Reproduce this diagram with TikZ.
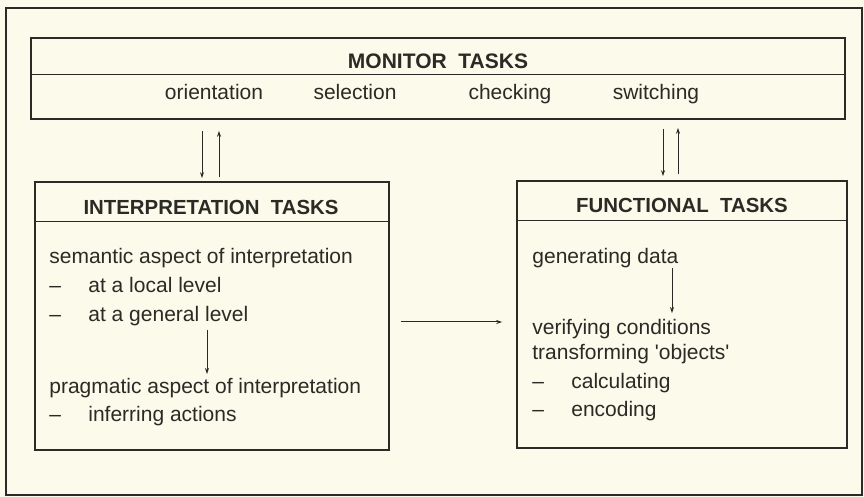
\documentclass[tikz,border=0pt]{standalone}
\usepackage{fontspec}
\setmainfont{Liberation Sans}
\usepackage{tikz}
\usetikzlibrary{arrows.meta}
\usetikzlibrary{positioning}

\definecolor{paper}{RGB}{252,250,234}
\definecolor{ink}{RGB}{42,42,38}
\newcommand{\itemdash}{\makebox[19.5pt][l]{--}}

\begin{document}
\begin{tikzpicture}[x=0.5pt, y=-0.5pt,
        box/.style={draw=ink, line width=0.8pt, inner sep=0pt},
        head/.style={font=\fontsize{10.2}{12}\selectfont\bfseries, text=ink, inner sep=0pt},
        mon/.style={font=\fontsize{10.5}{12}\selectfont, text=ink, inner sep=0pt, text height=1.6ex, text depth=0.4ex},
        item/.style={mon, anchor=west},
        link/.style={-{Stealth[length=3pt, width=2pt]}, draw=ink, line width=0.5pt}]
        % Paper and outer frame
        \fill[paper] (0,0) rectangle (864,497);
        \draw[ink, line width=1.1pt] (6,8) rectangle (862,495);
        % Draw the three boxes
        \node[box, minimum width=407pt, minimum height=40.5pt] (monitor) at (438,78.5) {};
        \node[box, minimum width=177pt, minimum height=134pt] (interp) at (212,316) {};
        \node[box, minimum width=165pt, minimum height=133.5pt] (func) at (682,314.5) {};
        % Titles and the lines under them
        \node[head, font=\fontsize{10.5}{12}\selectfont\bfseries] (mtitle) at (438,61) {MONITOR~~TASKS};
        \node[head] (ititle) at (211,207) {INTERPRETATION~~TASKS};
        \node[head] (ftitle) at (682,205) {FUNCTIONAL~~TASKS};
        \draw[ink, line width=0.4pt] (monitor.west |- 0,74) -- (monitor.east |- 0,74);
        \draw[ink, line width=0.4pt] (interp.west |- 0,221) -- (interp.east |- 0,221);
        \draw[ink, line width=0.4pt] (func.west |- 0,220) -- (func.east |- 0,220);
        % Monitor tasks
        \foreach \x/\t in {214/orientation, 355/selection, 510/checking, 656/switching}{
            \node[mon] (m-\t) at (\x,93) {\t};
        }
        % Interpretation tasks
        \node[item] (sem) at (49,257) {semantic aspect of interpretation};
        \node[item] (local) at (49,286) {\itemdash at a local level};
        \node[item] (general) at (49,315) {\itemdash at a general level};
        \node[item] (prag) at (49,387) {pragmatic aspect of interpretation};
        \node[item] (infer) at (49,415) {\itemdash inferring actions};
        % Functional tasks
        \node[item] (gendata) at (532,257) {generating data};
        \node[item] (verify) at (532,328) {verifying conditions};
        \node[item] (transform) at (532,353) {transforming \textquotesingle objects\textquotesingle};
        \node[item] (calc) at (532,382) {\itemdash calculating};
        \node[item] (encode) at (532,410) {\itemdash encoding};
        % Arrows inside the boxes
        \coordinate (ia) at (207,0);
        \coordinate (fa) at (672,0);
        \draw[link, shorten <=2pt, shorten >=1pt] (general.south -| ia) -- (prag.north -| ia);
        \draw[link, shorten >=2pt] (gendata.south -| fa) -- (verify.north -| fa);
        % Arrows between the boxes
        \draw[link, shorten <=5.5pt, shorten >=1.5pt] ([xshift=-5pt]interp.north |- monitor.south) -- ([xshift=-5pt]interp.north);
        \draw[link, shorten <=2pt, shorten >=5.5pt] ([xshift=3.5pt]interp.north) -- ([xshift=3.5pt]interp.north |- monitor.south);
        \draw[link, shorten <=4.5pt, shorten >=2pt] ([xshift=-9.5pt]func.north |- monitor.south) -- ([xshift=-9.5pt]func.north);
        \draw[link, shorten <=3pt, shorten >=4pt] ([xshift=-2pt]func.north) -- ([xshift=-2pt]func.north |- monitor.south);
        \draw[link, shorten <=5.5pt, shorten >=7pt] ([yshift=-3pt]interp.east) -- ([yshift=-3pt]interp.east -| func.west);
    \end{tikzpicture}
\end{document}
